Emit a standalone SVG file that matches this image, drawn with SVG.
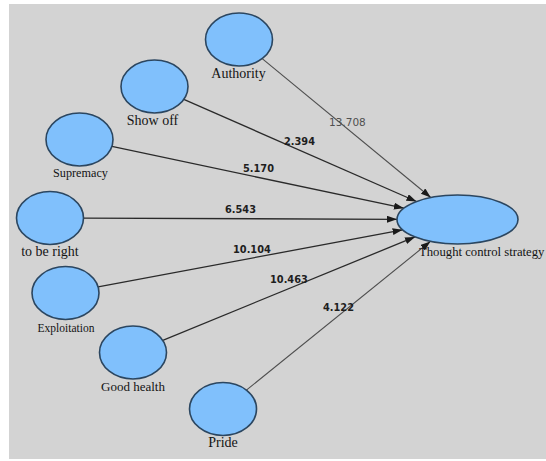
<svg xmlns="http://www.w3.org/2000/svg" width="546" height="461" viewBox="0 0 546 461">
<style>
.bg{fill:#d3d3d3}
.n{fill:#80c0fc;stroke:#2b4660;stroke-width:1.6}
.lbl{font-family:"Liberation Serif","Times New Roman",serif;fill:#141414;text-anchor:middle}
.e{fill:none;stroke:#2a2a2a;stroke-width:1.3}
.eg{fill:none;stroke:#4e4e4e;stroke-width:1.1}
.w{font-family:"DejaVu Sans",Verdana,sans-serif;font-weight:bold;font-size:9.8px;fill:#1e1e1e}
.wg{font-family:"DejaVu Sans",Verdana,sans-serif;font-size:10.5px;fill:#505050}
</style>
<defs>
<marker id="ah" markerUnits="userSpaceOnUse" markerWidth="11" markerHeight="8" refX="10" refY="3.5" orient="auto">
<path d="M0,0 L10,3.5 L0,7 z" fill="#1a1a1a"/>
</marker>
</defs>
<rect x="0" y="0" width="546" height="461" fill="#ffffff"/>
<rect class="bg" x="9" y="4" width="537" height="455"/>
<g id="connectors">
<line class="eg" x1="262.2" y1="58.6" x2="430.8" y2="197.5" marker-end="url(#ah)"/>
<line class="e" x1="183.8" y1="99.4" x2="416.5" y2="201.5" marker-end="url(#ah)"/>
<line class="e" x1="111.9" y1="146.4" x2="403.9" y2="208.2" marker-end="url(#ah)"/>
<line class="e" x1="83.5" y1="218.1" x2="397" y2="219.3" marker-end="url(#ah)"/>
<line class="e" x1="98.1" y1="286.9" x2="402.6" y2="229.8" marker-end="url(#ah)"/>
<line class="e" x1="162.8" y1="340.3" x2="415" y2="236.9" marker-end="url(#ah)"/>
<line class="eg" x1="246.4" y1="390.1" x2="430.4" y2="241.4" marker-end="url(#ah)"/>
<text class="wg" x="329" y="126">13.708</text>
<text class="w" x="284" y="145">2.394</text>
<text class="w" x="243" y="172">5.170</text>
<text class="w" x="225" y="213">6.543</text>
<text class="w" x="233" y="253">10.104</text>
<text class="w" x="270" y="283">10.463</text>
<text class="w" x="323" y="311">4.122</text>
</g>
<g id="authority">
<ellipse class="n" cx="239" cy="39.5" rx="33.5" ry="26.5"/>
<text class="lbl" x="238.5" y="78" font-size="14">Authority</text>
</g>
<g id="show-off">
<ellipse class="n" cx="154.5" cy="86.5" rx="33.5" ry="26.5"/>
<text class="lbl" x="152.5" y="125" font-size="14">Show off</text>
</g>
<g id="supremacy">
<ellipse class="n" cx="79.5" cy="139.5" rx="33.5" ry="26.5"/>
<text class="lbl" x="80.5" y="177" font-size="12.2">Supremacy</text>
</g>
<g id="to-be-right">
<ellipse class="n" cx="50" cy="218" rx="33.5" ry="26.5"/>
<text class="lbl" x="50" y="256" font-size="14">to be right</text>
</g>
<g id="exploitation">
<ellipse class="n" cx="65.5" cy="293" rx="33.5" ry="26.5"/>
<text class="lbl" x="66" y="332" font-size="11.5">Exploitation</text>
</g>
<g id="good-health">
<ellipse class="n" cx="133" cy="352.5" rx="33.5" ry="26.5"/>
<text class="lbl" x="133" y="391" font-size="13">Good health</text>
</g>
<g id="pride">
<ellipse class="n" cx="223" cy="409" rx="33.5" ry="26.5"/>
<text class="lbl" x="223" y="447" font-size="14">Pride</text>
</g>
<g id="thought-control-strategy">
<ellipse class="n" cx="457.5" cy="219.5" rx="60.5" ry="24.5"/>
<text class="lbl" x="419" y="256" font-size="12.7" style="text-anchor:start">Thought control strategy</text>
</g>
</svg>
